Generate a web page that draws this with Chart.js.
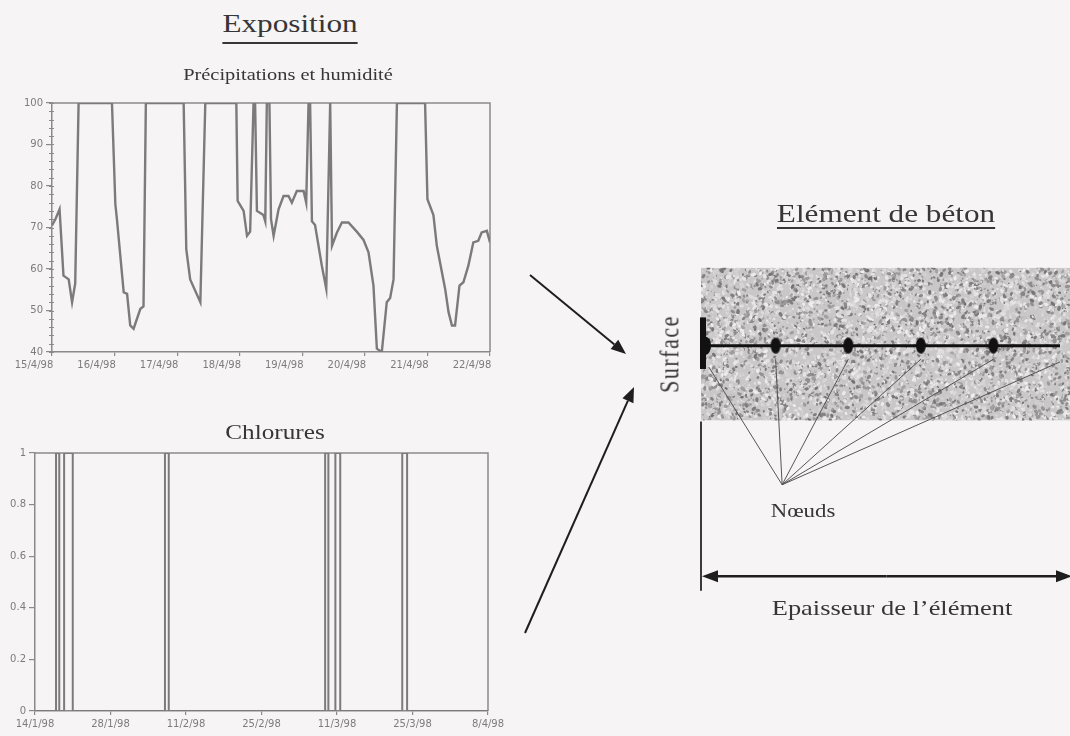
<!DOCTYPE html>
<html lang="fr"><head><meta charset="utf-8">
<title>Exposition – Elément de béton</title>
<script src="https://cdn.jsdelivr.net/npm/chart.js@4.4.1/dist/chart.umd.min.js"></script>
<style>
html,body{margin:0;padding:0}
body{width:1070px;height:736px;overflow:hidden;position:relative;background:#f6f4f4;font-family:"Liberation Serif","Times New Roman",serif;color:#363636}
canvas{position:absolute;display:block}
.t{position:absolute;white-space:nowrap;line-height:1;transform:translateX(-50%) scaleX(1.2)}
.u{text-decoration:underline;text-decoration-thickness:1.5px}
</style></head><body>
<canvas id="diagram" width="570" height="736" style="left:500px;top:0"></canvas>
<canvas id="humidity" width="520" height="290" style="left:0;top:90px"></canvas>
<canvas id="chlorides" width="520" height="296" style="left:0;top:440px"></canvas>
<div class="t u" style="left:290px;top:11px;font-size:26px;text-underline-offset:10px">Exposition</div>
<div class="t" style="left:288px;top:66px;font-size:17px">Précipitations et humidité</div>
<div class="t" style="left:275px;top:422px;font-size:21px">Chlorures</div>
<div class="t u" style="left:886px;top:201px;font-size:26px;text-underline-offset:5px">Elément de béton</div>
<div class="t" style="left:803px;top:501px;font-size:19px">Nœuds</div>
<div class="t" style="left:892px;top:597px;font-size:22px">Epaisseur de l’élément</div>
<div class="t" style="left:670px;top:354px;font-size:22px;letter-spacing:1.5px;transform:translate(-50%,-50%) rotate(-90deg) scaleY(1.2)">Surface</div>
<script>
// ---------------- data ----------------
const humidityDates = ['15/4/98','16/4/98','17/4/98','18/4/98','19/4/98','20/4/98','21/4/98','22/4/98'];
// hours since 15/4/98 00:00
const humidityHours = [0,1.3,2.9,4.4,6.4,7.7,8.9,10.2,23.0,24.3,24.9,27.5,28.8,30.0,31.3,33.9,35.1,36.0,50.5,51.5,53.0,56.9,58.8,70.7,71.2,73.5,74.8,76.0,77.3,77.9,78.6,81.1,81.8,82.4,83.4,84.0,85.0,86.9,88.8,90.7,92.0,93.9,96.5,97.5,98.4,99.0,99.7,100.9,103.5,105.2,106.7,107.4,109.3,111.2,113.7,116.9,119.5,121.4,123.3,124.6,126.5,128.4,129.7,131.0,132.3,143.1,144.0,146.3,147.6,150.8,152.1,153.4,154.6,156.3,157.8,159.7,161.6,163.5,164.8,166.8,168.0];
// relative humidity (%)
const humidityValues = [70.5,72,74.4,58.4,57.5,52,56.5,100,100,75.6,72,54.4,54,46.4,45.6,50.4,51,100,100,64.8,57.5,52,100,100,76.4,74,68,69,100,100,74,73,71.5,100,100,72,68,74.4,77.6,77.6,76,78.8,78.8,76,100,100,71.5,70.6,60.8,55.2,100,65.6,68.8,71.2,71.2,69,67,64,56,40.8,40,52,53,57.5,100,100,76.8,73,65.6,55.2,49.6,46.4,46.4,56,56.8,60.8,66.4,66.8,68.8,69.2,66.4];

const chlorideDates = ['14/1/98','28/1/98','11/2/98','25/2/98','11/3/98','25/3/98','8/4/98'];
// days since 14/1/98
const chlorideDays   = [0,3.9,3.9,4.5,4.5,5.4,5.4,7.0,7.0,24.1,24.1,24.8,24.8,53.8,53.8,54.4,54.4,55.7,55.7,56.6,56.6,68.1,68.1,69.0,69.0,84];
const chlorideValues = [0,0,1,1,0,0,1,1,0,0,1,1,0,0,1,1,0,0,1,1,0,0,1,1,0,0];

// diagram: surface at depth 0, nodes along the thickness
const surfaceDepth = 0;
const nodeDepths = [1,2,3,4,5];

// ---------------- styles ----------------
const axisGray = '#8a8a8a';
const tickFont = {family:'"DejaVu Sans", sans-serif', size:10};

function xAxis(min,max,step,labels,height,offset){
  return {type:'linear',min,max,
    ticks:{stepSize:step,autoSkip:false,maxRotation:0,minRotation:0,padding:3,color:'#7c7c7c',font:tickFont,labelOffset:offset,
      callback:v=>labels[Math.round(v/step)]},
    grid:{drawOnChartArea:false,drawTicks:true,tickLength:4,color:axisGray,lineWidth:1.2},
    border:{display:true,color:axisGray,width:1.5},
    afterFit(s){s.height=height;}};
}
function yAxis(min,max,step,width){
  return {type:'linear',min,max,
    ticks:{stepSize:step,padding:3,color:'#7c7c7c',font:tickFont,callback:v=>String(+v.toFixed(1))},
    grid:{drawOnChartArea:false,drawTicks:true,tickLength:6,color:axisGray,lineWidth:1.2},
    border:{display:true,color:axisGray,width:1.5},
    afterFit(s){s.width=width;}};
}
const frame = {id:'frame', beforeDatasetsDraw(c){
  const a=c.chartArea, ctx=c.ctx; ctx.save(); ctx.strokeStyle=axisGray; ctx.lineWidth=1.5;
  ctx.beginPath(); ctx.moveTo(a.left,a.top); ctx.lineTo(a.right,a.top); ctx.lineTo(a.right,a.bottom); ctx.stroke(); ctx.restore(); }};
const minorTicks = {id:'minorTicks', afterDraw(c){
  const y=c.scales.y, a=c.chartArea, ctx=c.ctx; ctx.save(); ctx.strokeStyle=axisGray; ctx.lineWidth=1;
  for(let v=y.min; v<=y.max; v+=2){ const p=Math.round(y.getPixelForValue(v))+0.5;
    ctx.beginPath(); ctx.moveTo(a.left-3,p); ctx.lineTo(a.left+2,p); ctx.stroke(); }
  ctx.restore(); }};

const common = {responsive:false, animation:false, devicePixelRatio:1, events:[],
  plugins:{legend:{display:false}, tooltip:{enabled:false}}};

// ---------------- humidity chart ----------------
new Chart(document.getElementById('humidity'), {
  type:'scatter',
  data:{datasets:[{data:humidityHours.map((h,i)=>({x:h,y:humidityValues[i]})),
    showLine:true, borderColor:'#7b7b7b', borderWidth:2.4, pointRadius:0, tension:0}]},
  options:Object.assign({}, common, {
    layout:{padding:{left:0,top:13,right:30,bottom:0}},
    scales:{x:xAxis(0,168,24,humidityDates,28,-18), y:yAxis(40,100,10,52)}
  }),
  plugins:[frame, minorTicks]
});

// ---------------- chlorides chart ----------------
new Chart(document.getElementById('chlorides'), {
  type:'scatter',
  data:{datasets:[{data:chlorideDays.map((d,i)=>({x:d,y:chlorideValues[i]})),
    showLine:true, borderColor:'#7b7b7b', borderWidth:2, pointRadius:0, tension:0}]},
  options:Object.assign({}, common, {
    layout:{padding:{left:0,top:13,right:32,bottom:0}},
    scales:{x:xAxis(0,84,14,chlorideDates,25,0), y:yAxis(0,1,0.2,35)}
  }),
  plugins:[frame]
});

// ---------------- concrete element diagram ----------------
const nodeImg = document.createElement('canvas'); nodeImg.width=12; nodeImg.height=18;
{const g=nodeImg.getContext('2d'); g.fillStyle='#111'; g.beginPath(); g.ellipse(6,9,5,8,0,0,Math.PI*2); g.fill();}

function hash(n){const s=Math.sin(n*12.9898+4.1414)*43758.5453;return s-Math.floor(s);} // deterministic texture
function arrow(ctx,x1,y1,x2,y2,len,hw){
  const a=Math.atan2(y2-y1,x2-x1), bx=x2-len*Math.cos(a), by=y2-len*Math.sin(a);
  ctx.beginPath(); ctx.moveTo(x1,y1); ctx.lineTo(bx,by); ctx.stroke();
  ctx.beginPath(); ctx.moveTo(x2,y2);
  ctx.lineTo(bx+hw*Math.sin(a), by-hw*Math.cos(a));
  ctx.lineTo(bx-hw*Math.sin(a), by+hw*Math.cos(a)); ctx.closePath(); ctx.fill();
}
const apex = {x:1.09, y:143};
const deco = {id:'deco',
  beforeDatasetsDraw(c){
    const ctx=c.ctx, xs=c.scales.x, ys=c.scales.y;
    const L=xs.getPixelForValue(surfaceDepth)-2, R=c.width, T=ys.getPixelForValue(-80), B=ys.getPixelForValue(77);
    ctx.save(); ctx.beginPath(); ctx.rect(L,T,R-L,B-T); ctx.clip();
    ctx.fillStyle='#c9c7c7'; ctx.fillRect(L,T,R-L,B-T);
    for(let k=0;k<7000;k++){
      const px=L+hash(k*3.1+0.7)*(R-L), py=T+hash(k*7.7+1.3)*(B-T);
      const h=hash(k*1.7+5.1), g=Math.round(h<0.35 ? 115+h*150 : 175+h*65), r=0.5+hash(k*2.3+9.7)*1.3;
      ctx.fillStyle='rgb('+g+','+(g-2)+','+(g-2)+')';
      ctx.beginPath(); ctx.ellipse(px,py,r*1.5,r,hash(k*0.9)*3,0,Math.PI*2); ctx.fill();
    }
    ctx.restore();
  },
  afterDatasetsDraw(c){
    const ctx=c.ctx, xs=c.scales.x, ys=c.scales.y, x0=xs.getPixelForValue(surfaceDepth);
    ctx.save();
    // surface marker
    ctx.fillStyle='#111';
    ctx.fillRect(x0-3, ys.getPixelForValue(-29), 6, ys.getPixelForValue(24)-ys.getPixelForValue(-29));
    ctx.beginPath(); ctx.ellipse(x0+3, ys.getPixelForValue(0), 5, 9, 0, -Math.PI/2, Math.PI/2); ctx.fill();
    // vertical reference line
    ctx.strokeStyle='#3a3a3a'; ctx.lineWidth=2;
    ctx.beginPath(); ctx.moveTo(x0-2, ys.getPixelForValue(78)); ctx.lineTo(x0-2, ys.getPixelForValue(252)); ctx.stroke();
    // thickness dimension
    ctx.strokeStyle='#1e1e1e'; ctx.fillStyle='#1e1e1e'; ctx.lineWidth=2.5;
    const yd=ys.getPixelForValue(237);
    arrow(ctx, (x0+c.width)/2, yd, x0-1, yd, 16, 6);
    arrow(ctx, (x0+c.width)/2, yd, c.width+2, yd, 16, 6);
    // arrows from the exposure charts
    ctx.lineWidth=2;
    arrow(ctx, 30, 275, 126, 354, 15, 6);
    arrow(ctx, 25, 633, 134, 387, 15, 6);
    ctx.restore();
  }
};

const diagramSets = [
  {data:nodeDepths.map(d=>({x:d,y:0})), pointStyle:nodeImg, pointRadius:9, showLine:false},
  {data:[{x:surfaceDepth,y:0},{x:6,y:0}], showLine:true, borderColor:'#111', borderWidth:3, pointRadius:0}
].concat([surfaceDepth].concat(nodeDepths).map(d=>({
  data:[apex,{x:d===surfaceDepth?d+0.08:d, y:d===surfaceDepth?22:14}],
  showLine:true, borderColor:'#555', borderWidth:1, pointRadius:0})));

new Chart(document.getElementById('diagram'), {
  type:'scatter',
  data:{datasets:diagramSets},
  options:Object.assign({}, common, {
    layout:{padding:0},
    scales:{x:{type:'linear',display:false,min:-2.658,max:4.917},
            y:{type:'linear',display:false,min:-345,max:391,reverse:true}}
  }),
  plugins:[deco]
});
</script>
</body></html>
